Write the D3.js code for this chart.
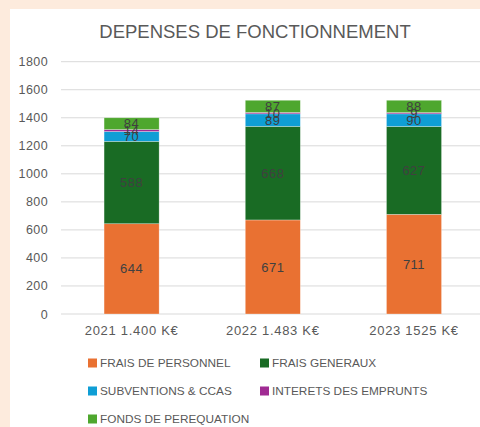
<!DOCTYPE html>
<html><head><meta charset="utf-8">
<script src="https://cdn.jsdelivr.net/npm/d3@7"></script>
<style>body{margin:0;background:#FDEBDD;}svg{display:block;}</style>
</head><body>
<svg id="c" width="480" height="427"></svg>
<script>
const categories = ["2021 1.400 K€", "2022 1.483 K€", "2023 1525 K€"];
const seriesNames = ["FRAIS DE PERSONNEL", "FRAIS GENERAUX", "SUBVENTIONS & CCAS", "INTERETS DES EMPRUNTS", "FONDS DE PEREQUATION"];
const fraisPersonnel = [644, 671, 711];
const fraisGeneraux = [588, 668, 627];
const subventions = [70, 89, 90];
const interets = [14, 10, 9];
const fondsPerequation = [84, 87, 88];
const yTicks = [0, 200, 400, 600, 800, 1000, 1200, 1400, 1600, 1800];
const colors = ["#E97132", "#196B24", "#0F9ED5", "#A02B93", "#4EA72E"];

const seriesVals = [fraisPersonnel, fraisGeneraux, subventions, interets, fondsPerequation];
const rows = categories.map((c, i) => {
  const o = {cat: c};
  seriesNames.forEach((s, j) => o[s] = seriesVals[j][i]);
  return o;
});
const stack = d3.stack().keys(seriesNames)(rows);

const svg = d3.select("#c");
const font = "'Liberation Sans', Arial, sans-serif";
svg.append("rect").attr("x", 10).attr("y", 9).attr("width", 470).attr("height", 418).attr("fill", "#fff");

svg.append("text").attr("x", 255).attr("y", 38).attr("text-anchor", "middle")
  .attr("font-family", font).attr("font-size", 18.5).attr("fill", "#595959")
  .text("DEPENSES DE FONCTIONNEMENT");

const y = d3.scaleLinear().domain([0, 1800]).range([314, 61.7]);
const x = d3.scaleBand().domain(categories).range([61, 484.6]).paddingInner(0.61).paddingOuter(0.305);

const grid = svg.append("g");
grid.selectAll("line").data(yTicks).join("line")
  .attr("x1", 61).attr("x2", 480).attr("y1", d => y(d)).attr("y2", d => y(d))
  .attr("stroke", "#d9d9d9").attr("stroke-width", 1);

const yAxis = svg.append("g").attr("transform", "translate(61,0)")
  .call(d3.axisLeft(y).tickValues(yTicks).tickFormat(d3.format("d")).tickSize(0).tickPadding(13));
yAxis.select(".domain").remove();
yAxis.selectAll("text").attr("font-family", font).attr("font-size", 12.5)
  .attr("letter-spacing", 0.4).attr("fill", "#595959");

const xAxis = svg.append("g").attr("transform", "translate(0,314)")
  .call(d3.axisBottom(x).tickSize(0).tickPadding(12));
xAxis.select(".domain").remove();
xAxis.selectAll("text").attr("font-family", font).attr("font-size", 13)
  .attr("letter-spacing", 0.7).attr("fill", "#595959");

const layers = svg.append("g").selectAll("g").data(stack).join("g").attr("fill", (d, i) => colors[i]);
layers.selectAll("rect").data(d => d).join("rect")
  .attr("x", d => x(d.data.cat)).attr("width", x.bandwidth())
  .attr("y", d => y(d[1])).attr("height", d => y(d[0]) - y(d[1]))
  .attr("stroke", "rgba(255,255,255,0.5)").attr("stroke-width", 0.6);

const labels = svg.append("g");
stack.forEach((s) => {
  s.forEach(d => {
    labels.append("text")
      .attr("x", x(d.data.cat) + x.bandwidth() / 2)
      .attr("y", (y(d[0]) + y(d[1])) / 2)
      .attr("dy", "0.35em").attr("text-anchor", "middle")
      .attr("font-family", font).attr("font-size", 13).attr("letter-spacing", 0.5)
      .attr("fill", "#404040")
      .text(d[1] - d[0]);
  });
});

const legendPos = [[88, 363], [260, 363], [88, 391], [260, 391], [88, 419]];
const lg = svg.append("g");
seriesNames.forEach((s, i) => {
  const [lx, ly] = legendPos[i];
  lg.append("rect").attr("x", lx).attr("y", ly - 4.5).attr("width", 9).attr("height", 9).attr("fill", colors[i]);
  lg.append("text").attr("x", lx + 12).attr("y", ly).attr("dy", "0.35em")
    .attr("font-family", font).attr("font-size", 11.8).attr("fill", "#595959").text(s);
});
</script>
</body></html>
